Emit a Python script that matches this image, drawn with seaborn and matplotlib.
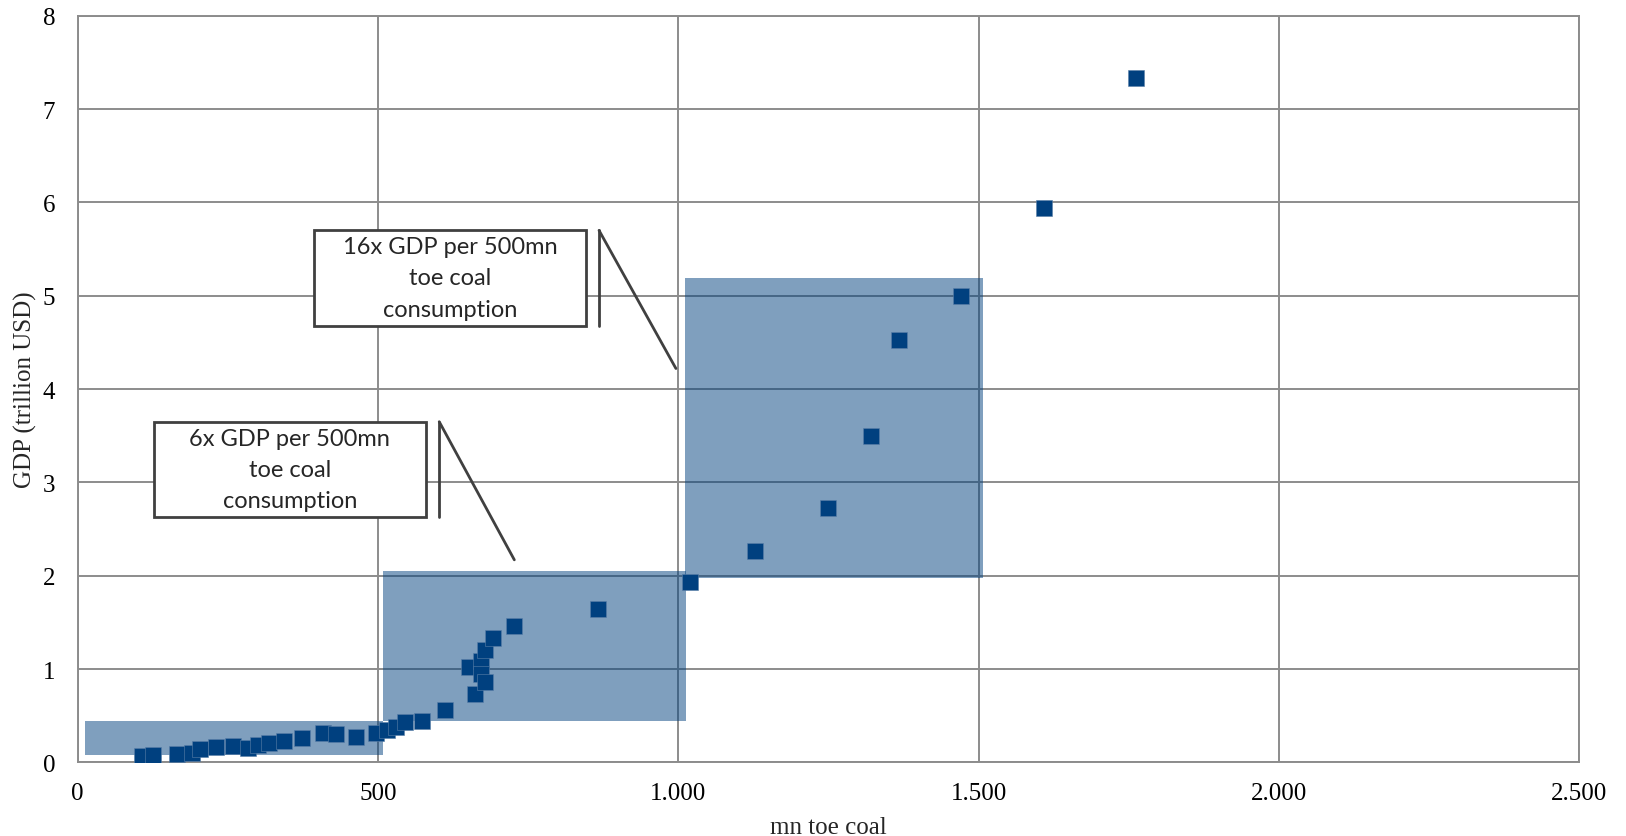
import matplotlib
matplotlib.use("Agg")
import matplotlib.pyplot as plt
import seaborn as sns
import pandas as pd
from matplotlib.patches import Rectangle
from matplotlib.ticker import FuncFormatter

# ---- data ----
coal = [108, 125, 165, 190, 204, 230, 258, 284, 300, 318, 343, 374, 408, 430,
        463, 496, 515, 530, 545, 573, 611, 662, 652, 671, 672, 678, 679, 692,
        727, 867, 1019, 1128, 1249, 1320, 1368, 1470, 1609, 1761]
gdp = [0.07, 0.08, 0.09, 0.10, 0.14, 0.16, 0.17, 0.15, 0.19, 0.21, 0.23, 0.26,
       0.31, 0.30, 0.27, 0.31, 0.35, 0.38, 0.43, 0.44, 0.56, 0.73, 1.02, 1.09,
       0.95, 0.86, 1.20, 1.33, 1.46, 1.64, 1.93, 2.26, 2.72, 3.50, 4.53, 5.00,
       5.94, 7.33]

# phase zones (x0, x1, y0, y1)
zone_x0 = [12, 508, 1011]
zone_x1 = [508, 1012, 1507]
zone_y0 = [0.078, 0.446, 1.97]
zone_y1 = [0.443, 2.05, 5.19]

callout_texts = ["6x GDP per 500mn\ntoe coal\nconsumption",
                 "16x GDP per 500mn\ntoe coal\nconsumption"]

x_ticks = [0, 500, 1000, 1500, 2000, 2500]
y_ticks = [0, 1, 2, 3, 4, 5, 6, 7, 8]

df = pd.DataFrame({"coal": coal, "gdp": gdp})

sns.set_theme(style="white")
plt.rcParams["font.family"] = ["Liberation Serif", "DejaVu Serif"]

fig = plt.figure(figsize=(16.26, 8.37), dpi=100)
ax = fig.add_axes([0.0477, 0.088, 0.9237, 0.892])

GRID = "#8c8c8c"
MARK = "#00407f"

# zones
for x0, x1, y0, y1 in zip(zone_x0, zone_x1, zone_y0, zone_y1):
    ax.add_patch(Rectangle((x0, y0), x1 - x0, y1 - y0, facecolor=MARK,
                           alpha=0.5, edgecolor="none", zorder=2))

sns.scatterplot(data=df, x="coal", y="gdp", marker="s", s=118, color=MARK,
                edgecolor="#5a7fa8", linewidth=0.4, ax=ax, zorder=3)

ax.set_xlim(0, 2500)
ax.set_ylim(0, 8)
ax.set_xticks(x_ticks)
ax.set_yticks(y_ticks)
ax.xaxis.set_major_formatter(FuncFormatter(lambda v, p: f"{int(v):,}".replace(",", ".")))
ax.grid(True, color=GRID, linewidth=1.4, zorder=1)
ax.set_axisbelow(True)
for s in ax.spines.values():
    s.set_color(GRID)
    s.set_linewidth(1.4)
ax.tick_params(axis="both", length=0, labelsize=18, colors="black")
ax.tick_params(axis="y", pad=16)
ax.tick_params(axis="x", pad=14)
ax.set_xlabel("mn toe coal", fontsize=18, labelpad=9)
ax.set_ylabel("GDP (trillion USD)", fontsize=18, labelpad=4)

# callouts (box + accent bar + leader line), in data coordinates
boxes = [(127, 580, 2.63, 3.65, 602, 727, 2.17),
         (394, 846, 4.68, 5.70, 868, 996, 4.22)]
for (bx0, bx1, by0, by1, lx, ex, ey), txt in zip(boxes, callout_texts):
    ax.add_patch(Rectangle((bx0, by0), bx1 - bx0, by1 - by0, facecolor="white",
                           edgecolor="#404040", linewidth=2, zorder=4))
    ax.plot([lx, lx], [by0, by1], color="#404040", linewidth=2, zorder=4)
    ax.plot([lx, ex], [by1, ey], color="#404040", linewidth=2, zorder=4)
    ax.text((bx0 + bx1) / 2, (by0 + by1) / 2, txt, ha="center", va="center",
            fontsize=17, family=["Lato", "DejaVu Sans"], linespacing=1.6, zorder=5)

fig.savefig("out.png", dpi=100)
